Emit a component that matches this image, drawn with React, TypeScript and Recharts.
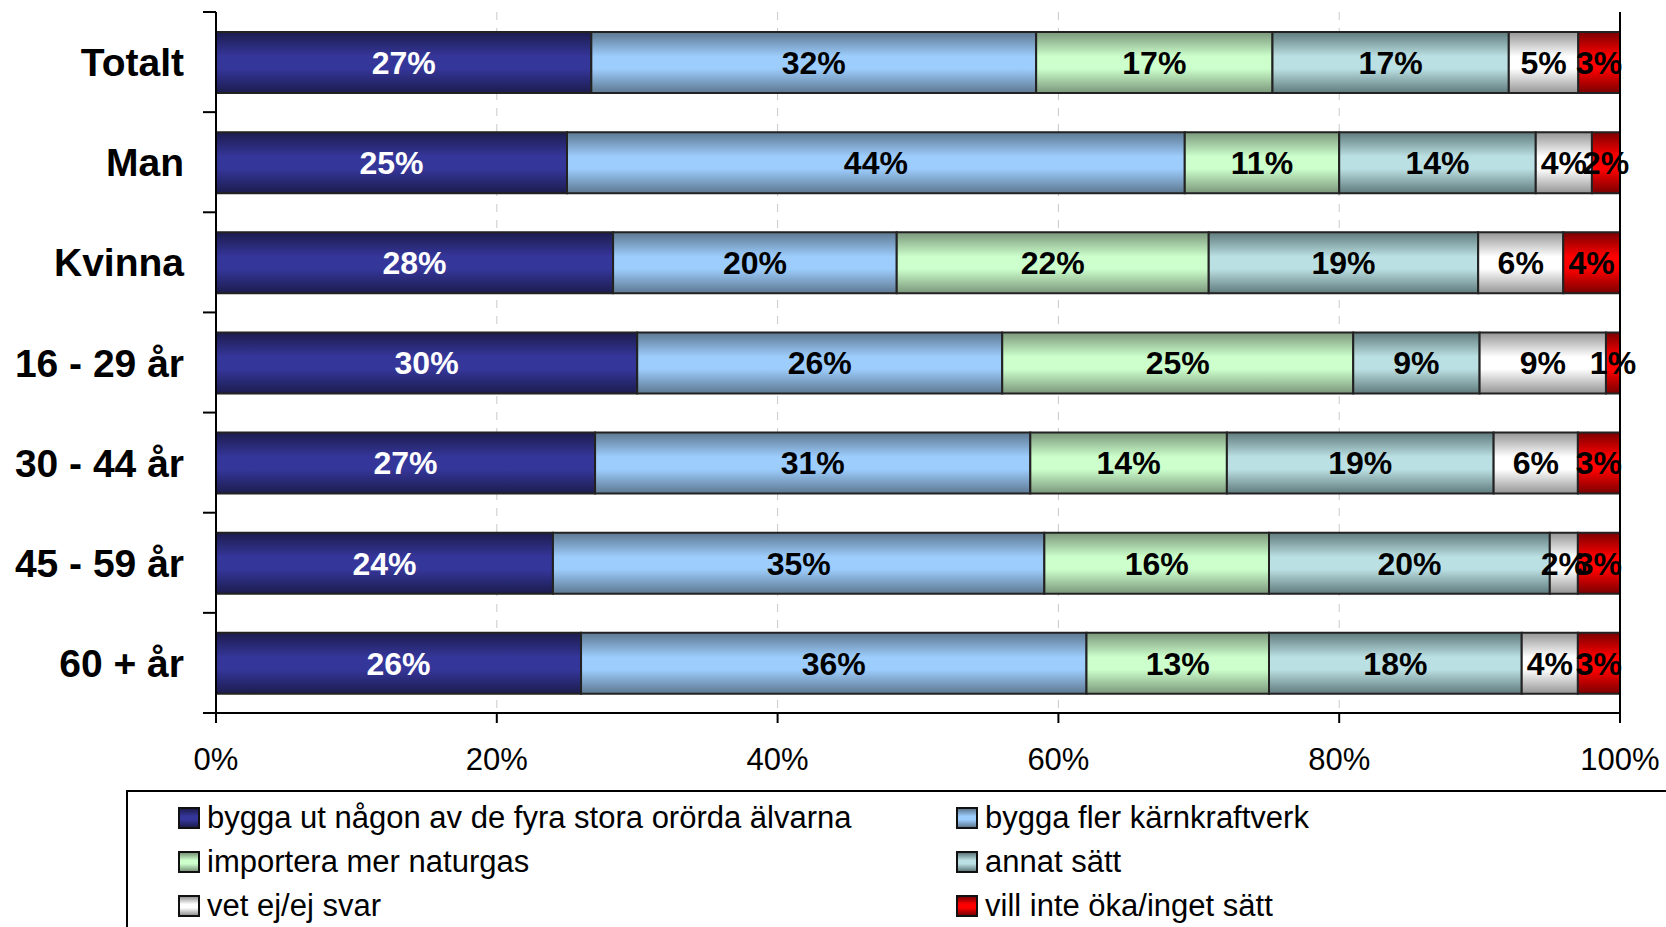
import React from "react";
import { Bar, BarChart, CartesianGrid, LabelList, ReferenceLine, XAxis, YAxis } from "recharts";

const categories = ["Totalt", "Man", "Kvinna", "16 - 29 år", "30 - 44 år", "45 - 59 år", "60 + år"];
const alvarna = [27, 25, 28, 30, 27, 24, 26];
const karnkraft = [32, 44, 20, 26, 31, 35, 36];
const naturgas = [17, 11, 22, 25, 14, 16, 13];
const annat = [17, 14, 19, 9, 19, 20, 18];
const vetEj = [5, 4, 6, 9, 6, 2, 4];
const villInte = [3, 2, 4, 1, 3, 3, 3];
const xTicks = [0, 0.2, 0.4, 0.6, 0.8, 1];

const series = [
  { key: "alvarna", name: "bygga ut någon av de fyra stora orörda älvarna", light: "#35369a", dark: "#1c1c4e", text: "#fff", values: alvarna },
  { key: "karnkraft", name: "bygga fler kärnkraftverk", light: "#9dcdfd", dark: "#5d7891", text: "#000", values: karnkraft },
  { key: "naturgas", name: "importera mer naturgas", light: "#ccffcc", dark: "#7b977b", text: "#000", values: naturgas },
  { key: "annat", name: "annat sätt", light: "#bbe0e3", dark: "#5f7a7c", text: "#000", values: annat },
  { key: "vetEj", name: "vet ej/ej svar", light: "#ffffff", dark: "#959595", text: "#000", values: vetEj },
  { key: "villInte", name: "vill inte öka/inget sätt", light: "#ff0000", dark: "#7a0000", text: "#000", values: villInte },
];

const data = categories.map((name, i) => {
  const row: Record<string, string | number> = { name };
  series.forEach((s) => (row[s.key] = s.values[i]));
  return row;
});

const FONT = "'Liberation Sans', Arial, sans-serif";
const PLOT_TOP = 12;
const PLOT_BOTTOM = 713;
const BAND = (PLOT_BOTTOM - PLOT_TOP) / categories.length;

// category labels plus the little tick marks between the rows
function CategoryTick(props: any) {
  const { y, payload, index } = props;
  const axisX = 216;
  return (
    <g>
      <line x1={axisX - 13} x2={axisX} y1={y - BAND / 2} y2={y - BAND / 2} stroke="#000" strokeWidth={2} />
      {index === categories.length - 1 && (
        <line x1={axisX - 13} x2={axisX} y1={y + BAND / 2} y2={y + BAND / 2} stroke="#000" strokeWidth={2} />
      )}
      <text x={184} y={y} dy="0.36em" textAnchor="end" fontSize={39} fontWeight="bold" fontFamily={FONT} fill="#000">
        {payload.value}
      </text>
    </g>
  );
}

function LegendBox() {
  const rows = [series.slice(0, 2), series.slice(2, 4), series.slice(4, 6)];
  return (
    <div
      style={{
        position: "absolute",
        left: 126,
        top: 790,
        width: 1700,
        height: 300,
        border: "2px solid #000",
        boxSizing: "border-box",
        fontFamily: FONT,
        fontSize: 31,
        color: "#000",
      }}
    >
      {rows.map((row, r) =>
        row.map((s, c) => (
          <div
            key={s.key}
            style={{
              position: "absolute",
              left: c === 0 ? 50 : 828,
              top: 26 + r * 44 - 18,
              height: 36,
              display: "flex",
              alignItems: "center",
              whiteSpace: "nowrap",
            }}
          >
            <span
              style={{
                display: "inline-block",
                width: 18,
                height: 18,
                marginRight: 7,
                border: "2px solid #111",
                background: `linear-gradient(to bottom, ${s.dark}, ${s.light} 40%, ${s.light} 60%, ${s.dark})`,
              }}
            />
            {s.name}
          </div>
        ))
      )}
    </div>
  );
}

export default function App() {
  return (
    <div style={{ position: "absolute", left: 0, top: 0, width: 1666, height: 927, overflow: "hidden", background: "#fff" }}>
      <BarChart
        width={1666}
        height={927}
        data={data}
        layout="vertical"
        stackOffset="expand"
        barSize={61}
        margin={{ top: PLOT_TOP, right: 46, left: 0, bottom: 154 }}
      >
        <defs>
          {series.map((s) => (
            <linearGradient key={s.key} id={`grad-${s.key}`} x1="0" y1="0" x2="0" y2="1">
              <stop offset="0%" stopColor={s.dark} />
              <stop offset="40%" stopColor={s.light} />
              <stop offset="60%" stopColor={s.light} />
              <stop offset="100%" stopColor={s.dark} />
            </linearGradient>
          ))}
        </defs>
        <CartesianGrid horizontal={false} strokeDasharray="8 8" stroke="#c8c8c8" />
        <XAxis
          type="number"
          domain={[0, 1]}
          ticks={xTicks}
          tickFormatter={(v: number) => `${Math.round(v * 100)}%`}
          tickSize={10}
          tickMargin={25}
          height={60}
          axisLine={{ stroke: "#000", strokeWidth: 2 }}
          tickLine={{ stroke: "#000", strokeWidth: 2 }}
          tick={{ fontSize: 31, fill: "#000", fontFamily: FONT }}
        />
        <XAxis
          xAxisId="top"
          orientation="top"
          type="number"
          domain={[0, 1]}
          height={0}
          tick={false}
          tickLine={false}
          axisLine={{ stroke: "#000", strokeWidth: 2 }}
        />
        <YAxis
          type="category"
          dataKey="name"
          width={216}
          axisLine={{ stroke: "#000", strokeWidth: 2 }}
          tickLine={false}
          tick={<CategoryTick />}
        />
        <ReferenceLine x={1} stroke="#000" strokeWidth={2} />
        {series.map((s) => (
          <Bar
            key={s.key}
            dataKey={s.key}
            name={s.name}
            stackId="a"
            fill={`url(#grad-${s.key})`}
            stroke="#222"
            strokeWidth={2}
            isAnimationActive={false}
          >
            <LabelList
              dataKey={s.key}
              position="center"
              formatter={(v: any) => `${v}%`}
              fill={s.text}
              fontSize={32}
              fontWeight="bold"
              fontFamily={FONT}
            />
          </Bar>
        ))}
      </BarChart>
      <LegendBox />
    </div>
  );
}
